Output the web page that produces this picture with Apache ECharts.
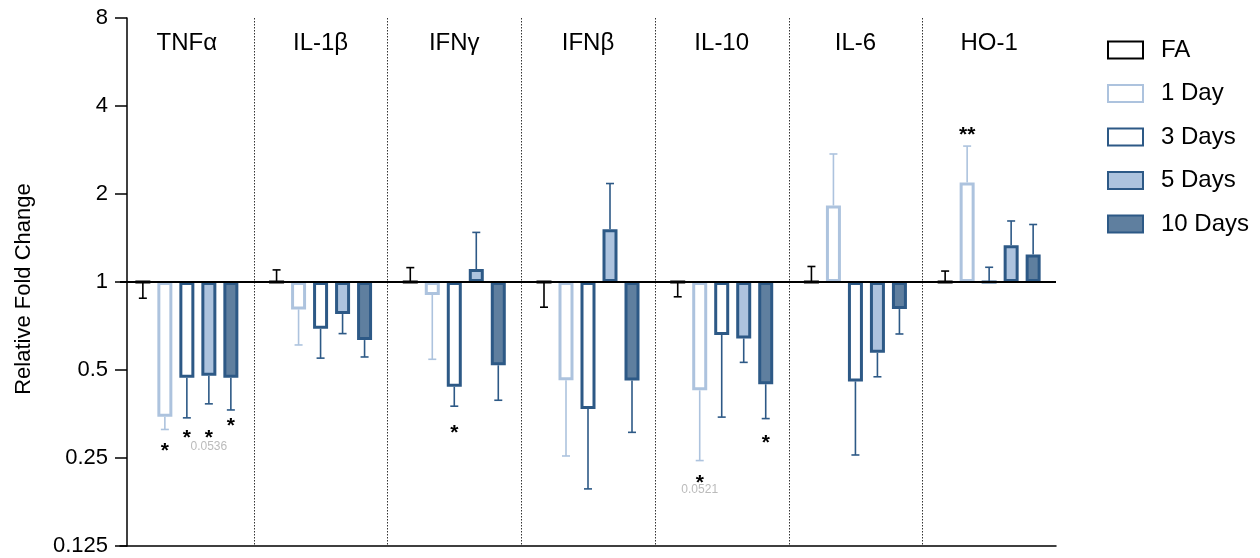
<!DOCTYPE html>
<html>
<head>
<meta charset="utf-8">
<title>Relative Fold Change</title>
<script src="https://cdn.jsdelivr.net/npm/echarts@6/dist/echarts.min.js"></script>
<style>
  html, body { margin: 0; padding: 0; background: #fff; }
  #chart { width: 1260px; height: 558px; }
</style>
</head>
<body>
<div id="chart"></div>
<script>
// Genes measured
const categories = ['TNFα', 'IL-1β', 'IFNγ', 'IFNβ', 'IL-10', 'IL-6', 'HO-1'];
const seriesNames = ['FA', '1 Day', '3 Days', '5 Days', '10 Days'];
const yTicks = [0.125, 0.25, 0.5, 1, 2, 4, 8];

// Mean fold change and the end of the error bar for each group
const faMean    = [1, 1, 1, 1, 1, 1, 1];
const faErr     = [0.88, 1.10, 1.12, 0.82, 0.89, 1.13, 1.09];
const day1Mean  = [0.346, 0.806, 0.903, 0.461, 0.426, 1.826, 2.19];
const day1Err   = [0.313, 0.609, 0.544, 0.254, 0.245, 2.741, 2.917];
const day3Mean  = [0.470, 0.692, 0.438, 0.368, 0.659, 0.457, 1.0];
const day3Err   = [0.343, 0.549, 0.376, 0.196, 0.345, 0.256, 1.123];
const day5Mean  = [0.478, 0.777, 1.107, 1.516, 0.641, 0.573, 1.336];
const day5Err   = [0.383, 0.666, 1.478, 2.172, 0.531, 0.474, 1.617];
const day10Mean = [0.470, 0.633, 0.519, 0.460, 0.447, 0.808, 1.242];
const day10Err  = [0.365, 0.554, 0.394, 0.306, 0.341, 0.664, 1.573];

// Significance marks: [gene index, group index, value at which the mark sits, text]
const stars = [
  [0, 1, 0.275, '*'], [0, 2, 0.304, '*'], [0, 3, 0.304, '*'], [0, 4, 0.333, '*'],
  [2, 2, 0.315, '*'],
  [4, 1, 0.214, '*'], [4, 4, 0.293, '*'],
  [6, 1, 3.31, '**']
];
const pValues = [
  [0, 3, 0.273, '0.0536'],
  [4, 1, 0.195, '0.0521']
];

const means = [faMean, day1Mean, day3Mean, day5Mean, day10Mean];
const errs  = [faErr, day1Err, day3Err, day5Err, day10Err];

const LIGHT = '#adc3de';
const DARK = '#2d5986';
const SLATE = '#5f7f9f';
const fills   = ['#ffffff', '#ffffff', '#ffffff', LIGHT, SLATE];
const borders = ['#000000', LIGHT, DARK, DARK, DARK];
const whiskers = ['#000000', LIGHT, DARK, DARK, DARK];

const BAR_W = 15;
const GAP = 7 / 15;
const PITCH = BAR_W * (1 + GAP);
const FONT = '"Liberation Sans", Arial, sans-serif';

const errData = [];
means.forEach((m, s) => m.forEach((v, c) => errData.push([c, s, v, errs[s][c]])));

const barSeries = seriesNames.map((name, s) => ({
  type: 'bar',
  name: name,
  data: means[s],
  barWidth: BAR_W,
  barGap: (GAP * 100).toFixed(2) + '%',
  z: 3,
  itemStyle: { color: fills[s], borderColor: borders[s], borderWidth: 3 },
  markLine: s === 0 ? {
    silent: true, symbol: 'none', label: { show: false },
    lineStyle: { color: '#000', width: 2, type: 'solid' },
    data: [{ yAxis: 1 }], z: 5
  } : undefined
}));

function offsetX(cat, s, api) {
  return api.coord([cat, 1])[0] + (s - 2) * PITCH;
}

const option = {
  animation: false,
  backgroundColor: '#fff',
  textStyle: { fontFamily: FONT },
  grid: { left: 120, right: 204, top: 18, bottom: 12 },
  legend: {
    orient: 'vertical',
    left: 1107, top: 38, padding: 0,
    itemWidth: 35, itemHeight: 17, itemGap: 19.5,
    icon: 'rect',
    data: seriesNames,
    textStyle: { fontSize: 24, lineHeight: 24, color: '#000', fontFamily: FONT, padding: [0, 0, 0, 13] }
  },
  xAxis: [
    {
      type: 'category', data: categories, position: 'bottom',
      axisLine: { lineStyle: { color: '#000', width: 1.5 } },
      axisTick: { show: false }, axisLabel: { show: false },
      splitLine: { show: false }
    },
    {
      type: 'category', data: categories, position: 'top',
      axisLine: { show: false }, axisTick: { show: false },
      axisLabel: { inside: true, margin: 13, fontSize: 24, color: '#000', fontFamily: FONT }
    }
  ],
  yAxis: {
    type: 'log', logBase: 2, min: 0.125, max: 8, splitNumber: 6,
    offset: -7,
    name: 'Relative Fold Change', nameLocation: 'middle', nameGap: 92,
    nameTextStyle: { fontSize: 22, color: '#000', fontFamily: FONT, padding: [0, 14, 0, 0] },
    axisLine: { show: true, lineStyle: { color: '#000', width: 1.5 } },
    axisTick: { show: true, length: 12, lineStyle: { color: '#000', width: 1.5 } },
    axisLabel: {
      fontSize: 22, color: '#000', margin: 19, fontFamily: FONT,
      formatter: v => {
        const t = yTicks.find(k => Math.abs(k - v) < 1e-6);
        return t === undefined ? '' : String(t);
      }
    },
    splitLine: { show: false }
  },
  series: [
    ...barSeries,
    {
      // dotted separators between genes
      type: 'custom', silent: true, z: 1,
      data: categories.slice(1).map((_, i) => [i + 1]),
      encode: { x: 0 },
      renderItem: (params, api) => {
        const c = api.value(0);
        const x = (api.coord([c - 1, 1])[0] + api.coord([c, 1])[0]) / 2;
        const cs = params.coordSys;
        return {
          type: 'line',
          shape: { x1: Math.round(x) + 0.5, y1: cs.y, x2: Math.round(x) + 0.5, y2: cs.y + cs.height },
          style: { stroke: '#333', lineWidth: 1, lineDash: [1.5, 1.5] }
        };
      }
    },
    {
      // error bars
      type: 'custom', silent: true, z: 2,
      data: errData,
      encode: { x: 0, y: [2, 3] },
      renderItem: (params, api) => {
        const c = api.value(0), s = api.value(1);
        const x = offsetX(c, s, api);
        const y0 = api.coord([c, api.value(2)])[1];
        const y1 = api.coord([c, api.value(3)])[1];
        const style = { stroke: whiskers[s], lineWidth: 1.6 };
        return {
          type: 'group',
          children: [
            { type: 'line', shape: { x1: x, y1: y0, x2: x, y2: y1 }, style },
            { type: 'line', shape: { x1: x - 4, y1: y1, x2: x + 4, y2: y1 }, style }
          ]
        };
      }
    },
    {
      type: 'custom', silent: true, z: 6,
      data: stars,
      encode: { x: 0, y: 2 },
      renderItem: (params, api) => {
        const c = api.value(0), s = api.value(1);
        const x = offsetX(c, s, api);
        const y = api.coord([c, api.value(2)])[1];
        return {
          type: 'text',
          style: {
            x: x, y: y + 5, text: stars[params.dataIndex][3],
            fill: '#000', font: 'bold 21px ' + FONT,
            align: 'center', verticalAlign: 'middle'
          }
        };
      }
    },
    {
      type: 'custom', silent: true, z: 6,
      data: pValues,
      encode: { x: 0, y: 2 },
      renderItem: (params, api) => {
        const c = api.value(0), s = api.value(1);
        const x = offsetX(c, s, api);
        const y = api.coord([c, api.value(2)])[1];
        return {
          type: 'text',
          style: {
            x: x, y: y, text: pValues[params.dataIndex][3],
            fill: '#bbbbbb', font: '12px ' + FONT,
            align: 'center', verticalAlign: 'middle'
          }
        };
      }
    }
  ]
};

const chart = echarts.init(document.getElementById('chart'), null, { renderer: 'canvas' });
chart.setOption(option);
</script>
</body>
</html>
